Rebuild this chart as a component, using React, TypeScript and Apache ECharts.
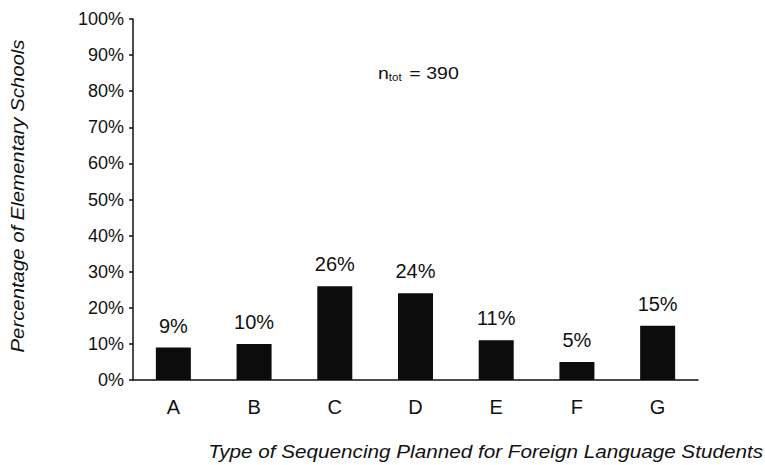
import React, { useEffect, useRef } from "react";
import * as echarts from "echarts";

const categories = ["A", "B", "C", "D", "E", "F", "G"];
const percentages = [9, 10, 26, 24, 11, 5, 15];
const yTicks = [0, 10, 20, 30, 40, 50, 60, 70, 80, 90, 100];
const xTitle = "Type of Sequencing Planned for Foreign Language Students";
const yTitle = "Percentage of Elementary Schools";
const nTotal = 390;

const FONT = "'Liberation Sans', Arial, Helvetica, sans-serif";
const INK = "#111111";

export default function App() {
  const ref = useRef<HTMLDivElement>(null);

  useEffect(() => {
    if (!ref.current) return;
    const chart = echarts.init(ref.current, undefined, { renderer: "svg" });
    chart.setOption({
      animation: false,
      backgroundColor: "#ffffff",
      grid: { left: 133, right: 67, top: 19, bottom: 85, containLabel: false },
      xAxis: {
        type: "category",
        data: categories,
        axisLine: { show: true, lineStyle: { color: INK, width: 1.5 } },
        axisTick: { show: false },
        axisLabel: {
          color: INK,
          fontFamily: FONT,
          fontSize: 20,
          margin: 17,
        },
      },
      yAxis: {
        type: "value",
        min: yTicks[0],
        max: yTicks[yTicks.length - 1],
        interval: 10,
        splitLine: { show: false },
        axisLine: { show: true, lineStyle: { color: INK, width: 1.5 } },
        axisTick: { show: true, length: 4, lineStyle: { color: INK, width: 1.5 } },
        axisLabel: {
          color: INK,
          fontFamily: FONT,
          fontSize: 18,
          margin: 9,
          formatter: "{value}%",
        },
      },
      series: [
        {
          type: "bar",
          data: percentages,
          barWidth: 35,
          itemStyle: { color: "#0c0c0c" },
          label: {
            show: true,
            position: "top",
            distance: 12,
            color: INK,
            fontFamily: FONT,
            fontSize: 20,
            formatter: "{c}%",
          },
        },
      ],
      graphic: [
        {
          type: "text",
          x: 378,
          y: 73,
          scaleX: 1.15,
          style: {
            text: "{n|n}{sub|tot}{n| = " + nTotal + "}",
            verticalAlign: "middle",
            rich: {
              n: { fontFamily: FONT, fontSize: 17, fill: INK },
              sub: { fontFamily: FONT, fontSize: 10, fill: INK, padding: [9, 2, 0, 0] },
            },
          },
        },
        {
          type: "text",
          x: 763,
          y: 452,
          scaleX: 1.15,
          style: {
            text: xTitle,
            fontFamily: FONT,
            fontStyle: "italic",
            fontSize: 18,
            fill: INK,
            align: "right",
            verticalAlign: "middle",
          },
        },
        {
          type: "text",
          x: 18,
          y: 196,
          rotation: Math.PI / 2,
          scaleX: 1.13,
          style: {
            text: yTitle,
            fontFamily: FONT,
            fontStyle: "italic",
            fontSize: 18,
            fill: INK,
            align: "center",
            verticalAlign: "middle",
          },
        },
      ],
    });
    return () => chart.dispose();
  }, []);

  return (
    <div
      ref={ref}
      style={{ position: "fixed", left: 0, top: 0, width: 765, height: 465 }}
    />
  );
}
